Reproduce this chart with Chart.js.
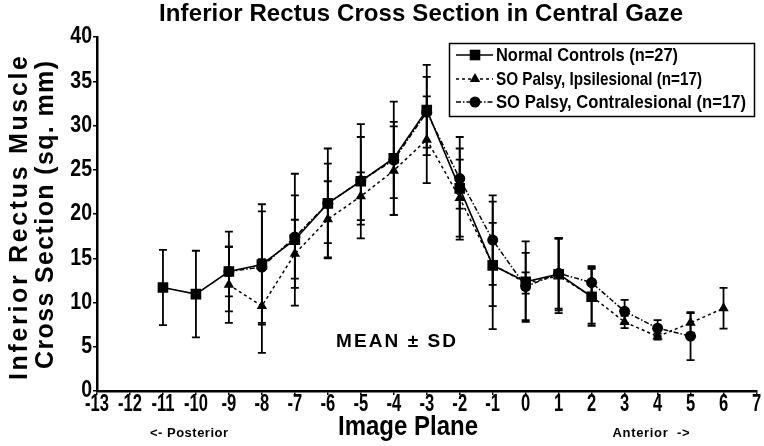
<!DOCTYPE html>
<html><head><meta charset="utf-8">
<script src="https://cdn.jsdelivr.net/npm/chart.js@4.4.1/dist/chart.umd.min.js"></script>
<style>html,body{margin:0;padding:0;background:#fff}#wrap{width:764px;height:446px}</style>
</head><body><div id="wrap"><canvas id="c" width="764" height="446"></canvas></div>
<script>
// ---- texts ----
const titleText = 'Inferior Rectus Cross Section in Central Gaze';
const xTitle = 'Image Plane';
const yTitleLines = ['Inferior Rectus Muscle', 'Cross Section (sq. mm)'];
const posteriorLabel = '<- Posterior';
const anteriorLabel = 'Anterior  ->';
const annotationText = 'MEAN ± SD';
const seriesNames = ['Normal Controls (n=27)', 'SO Palsy, Ipsilesional (n=17)', 'SO Palsy, Contralesional (n=17)'];

// ---- axes ----
const xMin = -13, xMax = 7, xStep = 1;
const yMin = 0, yMax = 40, yStep = 5;

// ---- data ----
const normalPlanes = [-11, -10, -9, -8, -7, -6, -5, -4, -3, -2, -1, 0, 1, 2];
const normalMean   = [11.7, 10.95, 13.5, 14.3, 17.1, 21.2, 23.7, 26.3, 31.75, 22.9, 14.2, 12.35, 13.2, 10.65];
const normalSD     = [4.25, 4.9, 4.5, 6.8, 7.45, 6.2, 6.45, 6.4, 5.1, 5.8, 7.2, 4.55, 4.1, 3.3];

const ipsiPlanes = [-9, -8, -7, -6, -5, -4, -3, -2, -1, 0, 1, 2, 3, 4, 5, 6];
const ipsiMean   = [12.0, 9.6, 15.5, 19.4, 22.0, 24.9, 28.4, 21.8, 14.3, 12.2, 13.0, 10.7, 7.8, 6.15, 7.7, 9.35];
const ipsiSD     = [4.3, 5.3, 3.85, 4.3, 2.7, 5.0, 4.9, 4.35, 4.7, 1.2, 4.2, 3.1, 0.7, 0.35, 1.1, 2.3];

const contraPlanes = [-9, -8, -7, -6, -5, -4, -3, -2, -1, 0, 1, 2, 3, 4, 5];
const contraMean   = [13.5, 14.0, 17.4, 21.2, 23.75, 26.1, 31.5, 24.0, 17.05, 11.8, 13.3, 12.25, 9.0, 7.1, 6.2];
const contraSD     = [2.8, 6.3, 4.7, 4.5, 4.95, 4.3, 4.0, 3.4, 5.05, 3.8, 4.0, 1.85, 1.3, 0.9, 2.7];

const toPts = (xs, ys) => xs.map((x, i) => ({x: x, y: ys[i]}));

const SANS = '"Liberation Sans", Arial, sans-serif';

function spacedText(ctx, text, cx, cy, targetWidth) {
  const chars = Array.from(text);
  const widths = chars.map(c => ctx.measureText(c).width);
  const natural = widths.reduce((a, b) => a + b, 0);
  const gap = chars.length > 1 ? (targetWidth - natural) / (chars.length - 1) : 0;
  if (gap <= 0) { ctx.textAlign = 'center'; ctx.fillText(text, cx, cy, targetWidth); return; }
  let xx = cx - targetWidth / 2;
  ctx.textAlign = 'left';
  chars.forEach((c, k) => { ctx.fillText(c, xx, cy); xx += widths[k] + gap; });
}

function marker(ctx, style, x, y, r) {
  ctx.beginPath();
  if (style === 'rect') {
    const s = r * Math.SQRT1_2;
    ctx.rect(x - s, y - s, 2 * s, 2 * s);
  } else if (style === 'triangle') {
    ctx.moveTo(x, y - r);
    ctx.lineTo(x + r * 0.866, y + r * 0.5);
    ctx.lineTo(x - r * 0.866, y + r * 0.5);
    ctx.closePath();
  } else {
    ctx.arc(x, y, r, 0, Math.PI * 2);
  }
  ctx.fill();
}

const errorBars = {
  id: 'errorBars',
  beforeDatasetsDraw(chart) {
    const ctx = chart.ctx, xs = chart.scales.x, ys = chart.scales.y;
    ctx.save();
    ctx.strokeStyle = '#000';
    ctx.lineWidth = 1.8;
    chart.data.datasets.forEach(ds => {
      ds.data.forEach((p, j) => {
        const s = ds.sd[j];
        const px = xs.getPixelForValue(p.x);
        const top = ys.getPixelForValue(p.y + s);
        const bot = ys.getPixelForValue(p.y - s);
        ctx.beginPath();
        ctx.moveTo(px, top); ctx.lineTo(px, bot);
        ctx.moveTo(px - 4, top); ctx.lineTo(px + 4, top);
        ctx.moveTo(px - 4, bot); ctx.lineTo(px + 4, bot);
        ctx.stroke();
      });
    });
    ctx.restore();
  }
};

const tickLabels = {
  id: 'tickLabels',
  afterDraw(chart) {
    const ctx = chart.ctx, xs = chart.scales.x, ys = chart.scales.y;
    ctx.save();
    ctx.fillStyle = '#000';
    ctx.font = 'bold 23px ' + SANS;
    ctx.textBaseline = 'middle';
    ctx.textAlign = 'center';
    xs.ticks.forEach(t => {
      const lbl = String(t.value);
      const w = ctx.measureText(lbl).width * 0.72;
      ctx.fillText(lbl, xs.getPixelForValue(t.value), 405, w);
    });
    ctx.textAlign = 'right';
    ys.ticks.forEach(t => {
      const lbl = String(t.value);
      const w = ctx.measureText(lbl).width * 0.85;
      ctx.fillText(lbl, 92, ys.getPixelForValue(t.value), w);
    });
    ctx.restore();
  }
};

const decorations = {
  id: 'decorations',
  afterDraw(chart) {
    const ctx = chart.ctx;
    ctx.save();
    ctx.fillStyle = '#000';
    ctx.textBaseline = 'middle';
    // title
    ctx.font = 'bold 24px ' + SANS;
    spacedText(ctx, titleText, 421, 14, 524);
    // x title and side labels
    ctx.font = 'bold 28px ' + SANS;
    spacedText(ctx, xTitle, 408, 427, 140);
    ctx.font = 'bold 13px ' + SANS;
    spacedText(ctx, posteriorLabel, 189, 433, 78);
    spacedText(ctx, anteriorLabel, 651, 433, 77);
    // annotation
    ctx.font = 'bold 19px ' + SANS;
    spacedText(ctx, annotationText, 396, 342, 120);
    // y title
    ctx.font = 'bold 25px ' + SANS;
    ctx.save();
    ctx.translate(20, 218); ctx.rotate(-Math.PI / 2);
    spacedText(ctx, yTitleLines[0], 0, 0, 324);
    ctx.restore();
    ctx.save();
    ctx.translate(46, 215); ctx.rotate(-Math.PI / 2);
    spacedText(ctx, yTitleLines[1], 0, 0, 308);
    ctx.restore();
    // legend
    ctx.lineWidth = 1.5;
    ctx.strokeStyle = '#000';
    ctx.strokeRect(449.5, 43.5, 305, 73);
    const rows = [55, 79, 102];
    ctx.font = 'bold 19px ' + SANS;
    chart.data.datasets.forEach((ds, i) => {
      const yy = rows[i];
      ctx.save();
      ctx.setLineDash(ds.borderDash || []);
      ctx.lineWidth = 1.5;
      ctx.beginPath(); ctx.moveTo(456, yy); ctx.lineTo(493, yy); ctx.stroke();
      ctx.restore();
      marker(ctx, ds.pointStyle, 475, yy, ds.pointRadius);
      ctx.textAlign = 'left';
      const w = ctx.measureText(ds.label).width;
      const target = [182, 206, 250][i];
      ctx.fillText(ds.label, 496, yy + 1, Math.min(w, target));
    });
    ctx.restore();
  }
};

new Chart(document.getElementById('c'), {
  type: 'line',
  data: {
    datasets: [
      { label: seriesNames[0], data: toPts(normalPlanes, normalMean), sd: normalSD,
        borderColor: '#000', backgroundColor: '#000', borderWidth: 1.6,
        pointStyle: 'rect', pointRadius: 7.5, pointBorderWidth: 0, tension: 0 },
      { label: seriesNames[1], data: toPts(ipsiPlanes, ipsiMean), sd: ipsiSD,
        borderColor: '#000', backgroundColor: '#000', borderWidth: 1.5, borderDash: [3, 3],
        pointStyle: 'triangle', pointRadius: 6, pointBorderWidth: 0, tension: 0 },
      { label: seriesNames[2], data: toPts(contraPlanes, contraMean), sd: contraSD,
        borderColor: '#000', backgroundColor: '#000', borderWidth: 1.5, borderDash: [5, 2, 1.5, 2],
        pointStyle: 'circle', pointRadius: 5.5, pointBorderWidth: 0, tension: 0 }
    ]
  },
  options: {
    responsive: false,
    animation: false,
    devicePixelRatio: 1,
    layout: { padding: { left: 0, right: 6, top: 37, bottom: 0 } },
    plugins: { legend: { display: false }, title: { display: false }, tooltip: { enabled: false } },
    scales: {
      x: {
        type: 'linear', min: xMin, max: xMax,
        afterFit: s => { s.height = 55; },
        ticks: { stepSize: xStep, autoSkip: false, maxRotation: 0, display: false },
        grid: { drawOnChartArea: false, drawTicks: true, tickLength: 4, color: '#000', lineWidth: 1.5 },
        border: { display: true, color: '#000', width: 2.5 }
      },
      y: {
        min: yMin, max: yMax,
        afterFit: s => { s.width = 97; },
        ticks: { stepSize: yStep, display: false },
        grid: { drawOnChartArea: false, drawTicks: true, tickLength: 4, color: '#000', lineWidth: 1.5 },
        border: { display: true, color: '#000', width: 2.5 }
      }
    }
  },
  plugins: [errorBars, tickLabels, decorations]
});
</script>
</body></html>
